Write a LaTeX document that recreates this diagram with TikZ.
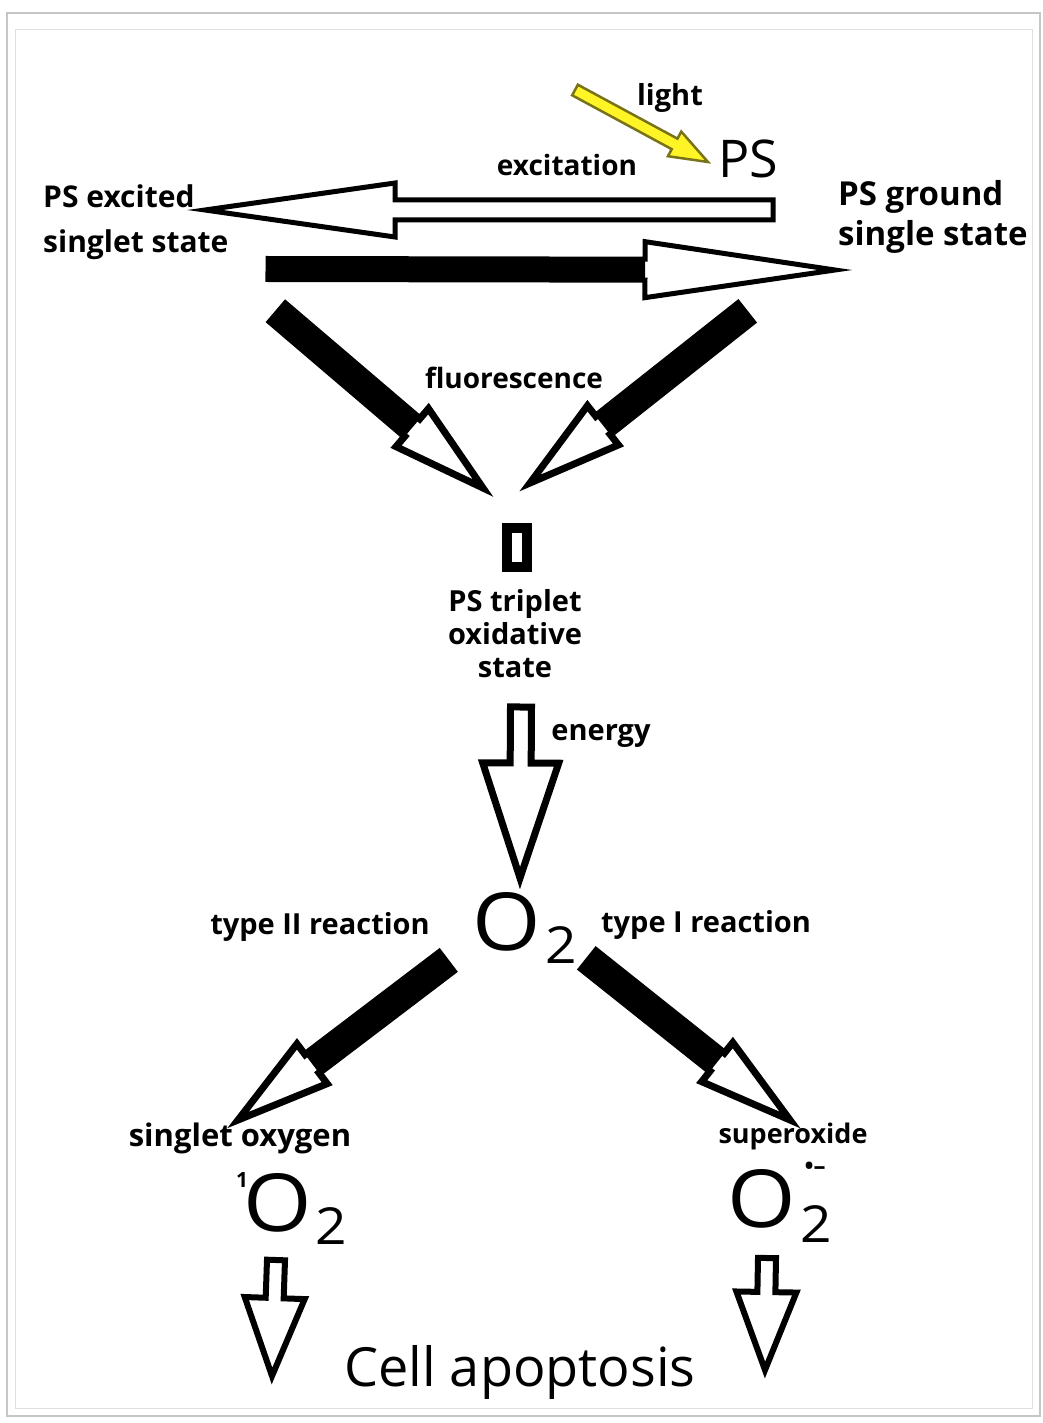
\documentclass[tikz,border=0pt]{standalone}
\usepackage{fontspec}
\setmainfont{Open Sans}
\usetikzlibrary{calc}
% block arrow: [style]{from}{to}{shaft half width}{head half width}{head length}
\newcommand{\blockarrow}[6][]{%
\coordinate (hb) at ($(#3)!#6!(#2)$);
\filldraw[fill=white, draw=black, line width=5pt, line join=miter, #1]
 ($(#2)!#4!90:(#3)$) -- ($(hb)!#4!90:(#3)$) -- ($(hb)!#5!90:(#3)$) -- (#3)
 -- ($(hb)!#5!-90:(#3)$) -- ($(hb)!#4!-90:(#3)$) -- ($(#2)!#4!-90:(#3)$) -- cycle;
}
% black shaft: {from}{to}{half width}{head length}
\newcommand{\solidshaft}[4]{%
\coordinate (hb) at ($(#2)!#4!(#1)$);
\fill ($(#1)!#3!90:(#2)$) -- ($(hb)!#3!90:(#2)$) -- ($(hb)!#3!-90:(#2)$) -- ($(#1)!#3!-90:(#2)$) -- cycle;
}
\begin{document}
\begin{tikzpicture}[x=1pt, y=-1pt,
  lbl/.style={font=\bfseries\fontsize{28}{33}\selectfont, inner sep=0pt, align=center},
  side/.style={font=\bfseries\fontsize{30}{45}\selectfont, inner sep=0pt, align=left, anchor=west},
  chem/.style={font=\fontsize{80}{80}\selectfont, inner sep=0pt, xscale=1.1},
  chemsub/.style={font=\fontsize{51}{51}\selectfont, inner sep=0pt, xscale=1.08}]
\useasboundingbox (0,0) rectangle (1043,1423);
\draw[gray!45, line width=2pt] (7,13) rectangle (1040,1416);
\draw[gray!25, line width=1pt] (15,30) rectangle (1032,1408);

\node[lbl, font=\bfseries\fontsize{29}{33}\selectfont] (light) at (670,98) {light};
\node[font=\fontsize{52}{52}\selectfont, inner sep=0pt] (ps) at (748,159) {PS};
\node[lbl] (excit) at (567,165) {excitation};
\node[side] (psex) at (43,222) {PS excited\\singlet state};
\node[side, font=\bfseries\fontsize{33}{40}\selectfont] (psgr) at (838,217) {PS ground\\single state};
\node[lbl] (fluor) at (514,378) {fluorescence};
\node[draw, line width=10pt, minimum width=20pt, minimum height=39pt, inner sep=0pt] (trbox) at (517,547) {};
\node[lbl, font=\bfseries\fontsize{29}{33}\selectfont] (trip) at (515,634) {PS triplet\\oxidative\\state};
\node[lbl, font=\bfseries\fontsize{29}{33}\selectfont] (energy) at (601,736) {energy};
\node[chem] (o2) at (507,922) {O};
\node[chemsub] (o2s) at (561,945) {2};
\node[lbl, font=\bfseries\fontsize{29}{33}\selectfont] (type2) at (320,927) {type II reaction};
\node[lbl, font=\bfseries\fontsize{29}{33}\selectfont] (type1) at (706,925) {type I reaction};
\node[lbl, font=\bfseries\fontsize{31}{33}\selectfont] (singox) at (240,1138) {singlet oxygen};
\node[lbl, font=\bfseries\fontsize{27}{30}\selectfont] (superox) at (793,1136) {superoxide};
\node[font=\bfseries\fontsize{21}{21}\selectfont, inner sep=0pt] (so1) at (242,1180) {1};
\node[chem] (so) at (278,1203) {O};
\node[chemsub] (sos) at (331,1226) {2};
\node[chem] (su) at (762,1199) {O};
\node[chemsub] (sus) at (816,1224) {2};
\node[font=\bfseries\fontsize{24}{24}\selectfont, inner sep=0pt] (surad) at (815,1168) {\textbullet–};
\node[font=\fontsize{54}{54}\selectfont, inner sep=0pt] (apop) at (520,1372) {Cell apoptosis};

\coordinate (ya) at (575,90);
\coordinate (yb) at (708,162);
\blockarrow[fill=yellow!85!white, draw=olive!80!black, line width=2.5pt]{ya}{yb}{6pt}{14pt}{38pt}
\coordinate (exa) at (773,210);
\coordinate (exb) at (205,210);
\blockarrow{exa}{exb}{10pt}{27pt}{190pt}
\coordinate (fla) at (268,269);
\coordinate (flb) at (835,270);
\blockarrow{fla}{flb}{10.5pt}{28pt}{190pt}
\solidshaft{fla}{flb}{10.5pt}{190pt}
\coordinate (dla) at (278,313);
\coordinate (dlb) at (483,488);
\blockarrow[line width=7pt]{dla}{dlb}{11.5pt}{25pt}{93pt}
\solidshaft{dla}{dlb}{11.5pt}{93pt}
\coordinate (dra) at (745,313);
\coordinate (drb) at (530,483);
\blockarrow[line width=7pt]{dra}{drb}{11.5pt}{25pt}{93pt}
\solidshaft{dra}{drb}{11.5pt}{93pt}
\coordinate (ena) at (521,707);
\coordinate (enb) at (520,878);
\blockarrow[line width=7pt]{ena}{enb}{10.5pt}{38pt}{115pt}
\coordinate (t2a) at (446,962);
\coordinate (t2b) at (238,1120);
\blockarrow[line width=7pt]{t2a}{t2b}{11.5pt}{25pt}{93pt}
\solidshaft{t2a}{t2b}{11.5pt}{93pt}
\coordinate (t1a) at (589,960);
\coordinate (t1b) at (790,1120);
\blockarrow[line width=7pt]{t1a}{t1b}{11.5pt}{25pt}{93pt}
\solidshaft{t1a}{t1b}{11.5pt}{93pt}
\coordinate (apa) at (276,1260);
\coordinate (apb) at (272,1376);
\blockarrow[line width=6pt]{apa}{apb}{9pt}{30pt}{78pt}
\coordinate (apc) at (767,1258);
\coordinate (apd) at (765,1370);
\blockarrow[line width=6pt]{apc}{apd}{9pt}{30pt}{78pt}
\end{tikzpicture}
\end{document}
